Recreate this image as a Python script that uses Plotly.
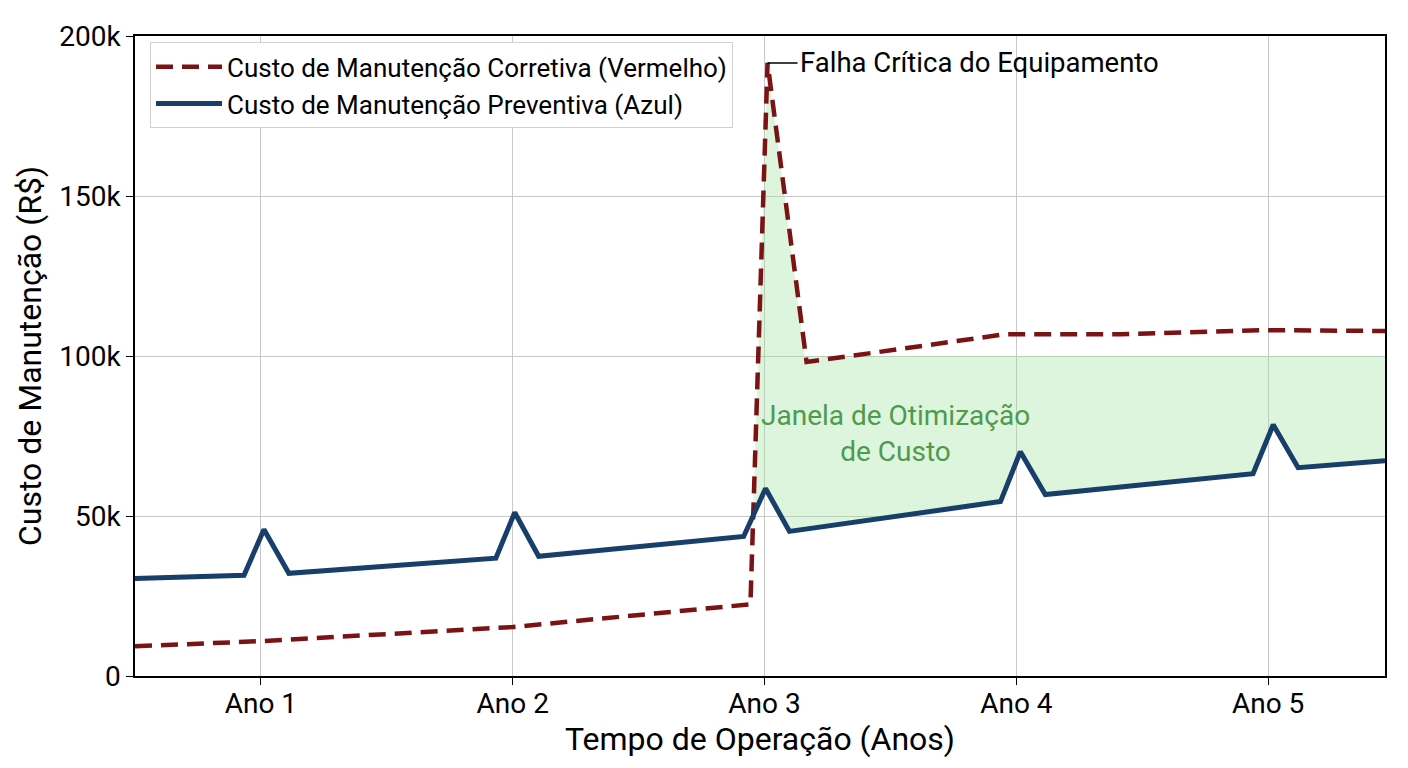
import plotly.graph_objects as go

# dados (x em anos, y em R$)
anos_ticks = [1, 2, 3, 4, 5]
anos_labels = ['Ano 1', 'Ano 2', 'Ano 3', 'Ano 4', 'Ano 5']
y_ticks = [0, 50000, 100000, 150000, 200000]
y_labels = ['0', '50k', '100k', '150k', '200k']

prev_x = [0.5, 0.933, 1.012, 1.111, 1.933, 2.008, 2.103, 2.917, 3.004, 3.099,
          3.937, 4.016, 4.115, 4.940, 5.020, 5.119, 5.464]
prev_y = [30500, 31500, 45800, 32100, 36800, 51100, 37400, 43600, 58600, 45200,
          54500, 70100, 56700, 63200, 78500, 65100, 67300]

corr_x = [0.5, 1.0, 2.0, 2.944, 3.012, 3.167, 3.956, 4.413, 4.976, 5.464]
corr_y = [9300, 10900, 15300, 22400, 191600, 98100, 106800, 106800, 108100, 107800]

# borda superior da janela de otimizacao
janela_x = [2.955, 3.012, 3.16, 5.464]
janela_topo = [50200, 191600, 100000, 100000]

FONT = 'Roboto'
azul = '#173f6a'
vermelho = '#7b1214'

# poligono: topo da janela + curva azul de volta
baixo = [(x, y) for x, y in zip(prev_x, prev_y) if x > janela_x[0]]
poly_x = janela_x + [p[0] for p in reversed(baixo)] + [janela_x[0]]
poly_y = janela_topo + [p[1] for p in reversed(baixo)] + [janela_topo[0]]

fig = go.Figure()
fig.add_trace(go.Scatter(x=poly_x, y=poly_y, fill='toself', mode='lines',
                         line=dict(width=0), fillcolor='rgba(150,225,150,0.33)',
                         showlegend=False, hoverinfo='skip'))
fig.add_trace(go.Scatter(x=corr_x, y=corr_y, mode='lines',
                         name='Custo de Manutenção Corretiva (Vermelho)',
                         line=dict(color=vermelho, width=4.5, dash='17px,9px')))
fig.add_trace(go.Scatter(x=prev_x, y=prev_y, mode='lines',
                         name='Custo de Manutenção Preventiva (Azul)',
                         line=dict(color=azul, width=5)))

fig.add_annotation(x=corr_x[4], y=corr_y[4], text='Falha Crítica do Equipamento',
                   showarrow=True, arrowhead=0, arrowwidth=1.5, arrowcolor='black',
                   ax=30, ay=0, xanchor='left', font=dict(family=FONT, size=27.5, color='black'))
fig.add_annotation(x=3.52, y=75700, text='Janela de Otimização<br>de Custo', showarrow=False,
                   font=dict(family=FONT, size=28, color='#4e9a4e'))

# a pagina tem 8px de margem no body: figura 1400x760 e margens descontadas
fig.update_layout(
    width=1400, height=760,
    margin=dict(l=127, r=23, t=19, b=92),
    plot_bgcolor='white', paper_bgcolor='white',
    font=dict(family=FONT, size=26, color='black'),
    legend=dict(x=0.012, y=0.99, xanchor='left', yanchor='top',
                bgcolor='white', bordercolor='#d0d0d0', borderwidth=1,
                font=dict(family=FONT, size=26), tracegroupgap=0, itemwidth=66),
)
fig.update_xaxes(range=[0.5, 5.464], tickvals=anos_ticks, ticktext=anos_labels,
                 showgrid=True, gridcolor='#c8c8c8', gridwidth=1,
                 showline=True, linecolor='black', linewidth=1.5, mirror=True,
                 ticks='outside', ticklen=7, tickcolor='black', ticklabelstandoff=-5,
                 title=dict(text='Tempo de Operação (Anos)', font=dict(size=32), standoff=4),
                 tickfont=dict(size=28), zeroline=False)
fig.update_yaxes(range=[0, 200000], tickvals=y_ticks, ticktext=y_labels,
                 showgrid=True, gridcolor='#c8c8c8', gridwidth=1,
                 showline=True, linecolor='black', linewidth=1.5, mirror=True,
                 ticks='outside', ticklen=7, tickcolor='black',
                 title=dict(text='Custo de Manutenção (R$)', font=dict(size=32), standoff=8),
                 tickfont=dict(size=28), zeroline=False)

fig.write_html('out.html')
